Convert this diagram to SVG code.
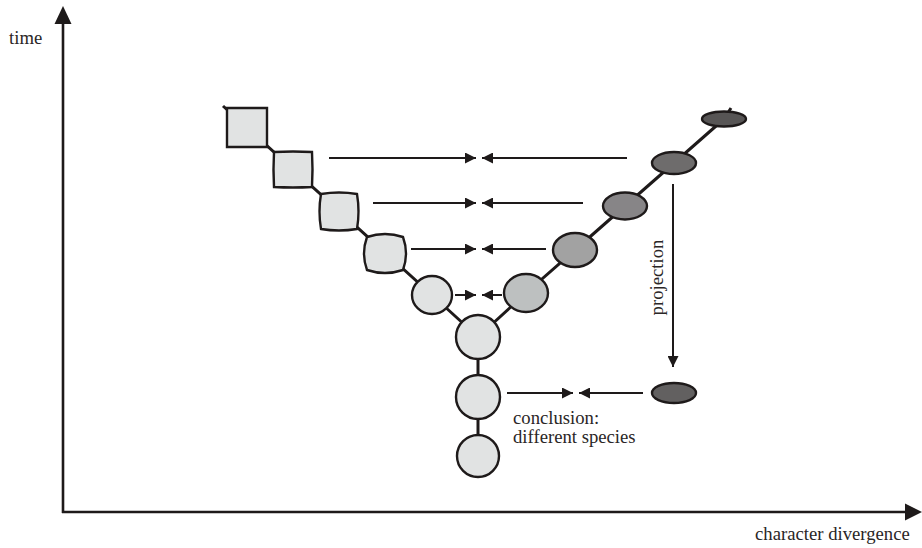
<svg xmlns="http://www.w3.org/2000/svg" width="922" height="548" viewBox="0 0 922 548">
  <defs>
    <marker id="head" viewBox="0 0 11 11" refX="11" refY="5.5" markerWidth="11" markerHeight="11" markerUnits="userSpaceOnUse" orient="auto">
      <path d="M0,0 L11,5.5 L0,11 Z" fill="#1e1a1a"/>
    </marker>
  </defs>
  <style>
    .axis { stroke: #1e1a1a; stroke-width: 2.6; fill: none; }
    .axhead { fill: #1e1a1a; }
    .link { stroke: #1e1a1a; stroke-width: 3; fill: none; stroke-linejoin: round; }
    .arrow { stroke: #1e1a1a; stroke-width: 2; fill: none; marker-end: url(#head); }
    .shape { stroke: #1e1a1a; stroke-width: 2.4; }
    .light { fill: #e1e3e3; }
    .label { fill: #2a2626; font-size: 18.7px; }
  </style>

  <rect width="922" height="548" fill="#ffffff"/>

  <!-- axes -->
  <g id="axes" font-family="'Liberation Serif', 'DejaVu Serif', serif">
    <line class="axis" x1="63" y1="513" x2="63" y2="22"/>
    <path class="axhead" d="M54.5,24 L63,6 L71.5,24 Z"/>
    <line class="axis" x1="62" y1="512" x2="906" y2="512"/>
    <path class="axhead" d="M905,503.5 L922,512 L905,520.5 Z"/>
    <text class="label" x="9" y="44">time</text>
    <text class="label" x="755" y="540">character divergence</text>
  </g>

  <!-- connectors -->
  <g id="connectors">
    <polyline class="link" points="223,106 432,295 478,337"/>
    <polyline class="link" points="478,337 526,293 575,250 625,206 674,163 724,119 731,108"/>
    <line class="link" x1="478" y1="337" x2="478" y2="456"/>

    <line class="arrow" x1="329" y1="158" x2="476" y2="158"/>
    <line class="arrow" x1="627" y1="158" x2="482" y2="158"/>
    <line class="arrow" x1="373" y1="203" x2="476" y2="203"/>
    <line class="arrow" x1="583" y1="203" x2="482" y2="203"/>
    <line class="arrow" x1="411" y1="249" x2="476" y2="249"/>
    <line class="arrow" x1="546" y1="249" x2="482" y2="249"/>
    <line class="arrow" x1="455" y1="295" x2="476" y2="295"/>
    <line class="arrow" x1="502" y1="295" x2="482" y2="295"/>
    <line class="arrow" x1="507" y1="393" x2="573" y2="393"/>
    <line class="arrow" x1="643" y1="393" x2="579" y2="393"/>
    <line class="arrow" x1="673" y1="184" x2="673" y2="367"/>
  </g>

  <!-- left lineage: squares rounding towards circles -->
  <g id="left-1"><path class="shape light" d="M227,108 L267,108 L267,147 L227,147 Z"/></g>
  <g id="left-2"><path class="shape light" d="M274,152 Q293,151 312,152 Q313,169.5 312,187 Q293,188 274,187 Q273,169.5 274,152 Z"/></g>
  <g id="left-3"><path class="shape light" d="M321,194 Q339,191 357,194 Q360,211.5 357,229 Q339,232 321,229 Q318,211.5 321,194 Z"/></g>
  <g id="left-4"><path class="shape light" d="M367,237 Q385,231 403,237 Q409,253.5 403,270 Q385,276 367,270 Q361,253.5 367,237 Z"/></g>
  <g id="left-5"><ellipse class="shape light" cx="432" cy="295" rx="20" ry="19"/></g>

  <!-- common stem -->
  <g id="stem-1"><circle class="shape light" cx="478" cy="337" r="22"/></g>
  <g id="stem-2"><circle class="shape light" cx="478" cy="397" r="22"/></g>
  <g id="stem-3"><circle class="shape light" cx="478" cy="456" r="21"/></g>

  <!-- right lineage: flattening, darkening ellipses -->
  <g id="right-1"><ellipse class="shape" cx="526" cy="293" rx="22" ry="19" fill="#bdc0c0"/></g>
  <g id="right-2"><ellipse class="shape" cx="575" cy="250" rx="22" ry="17" fill="#a2a2a2"/></g>
  <g id="right-3"><ellipse class="shape" cx="625" cy="206" rx="22" ry="13.5" fill="#878587"/></g>
  <g id="right-4"><ellipse class="shape" cx="674" cy="163" rx="22" ry="11" fill="#6e6c6c"/></g>
  <g id="right-5"><ellipse class="shape" cx="724" cy="119" rx="22" ry="7.5" fill="#575555"/></g>

  <!-- projected form -->
  <g id="projected"><ellipse class="shape" cx="674" cy="393" rx="22" ry="10" fill="#626060"/></g>

  <!-- labels -->
  <g id="labels" font-family="'Liberation Serif', 'DejaVu Serif', serif">
    <text class="label" text-anchor="middle" transform="translate(663,277.5) rotate(-90)">projection</text>
    <text class="label" x="513" y="424">conclusion:</text>
    <text class="label" x="513" y="443">different species</text>
  </g>
</svg>
